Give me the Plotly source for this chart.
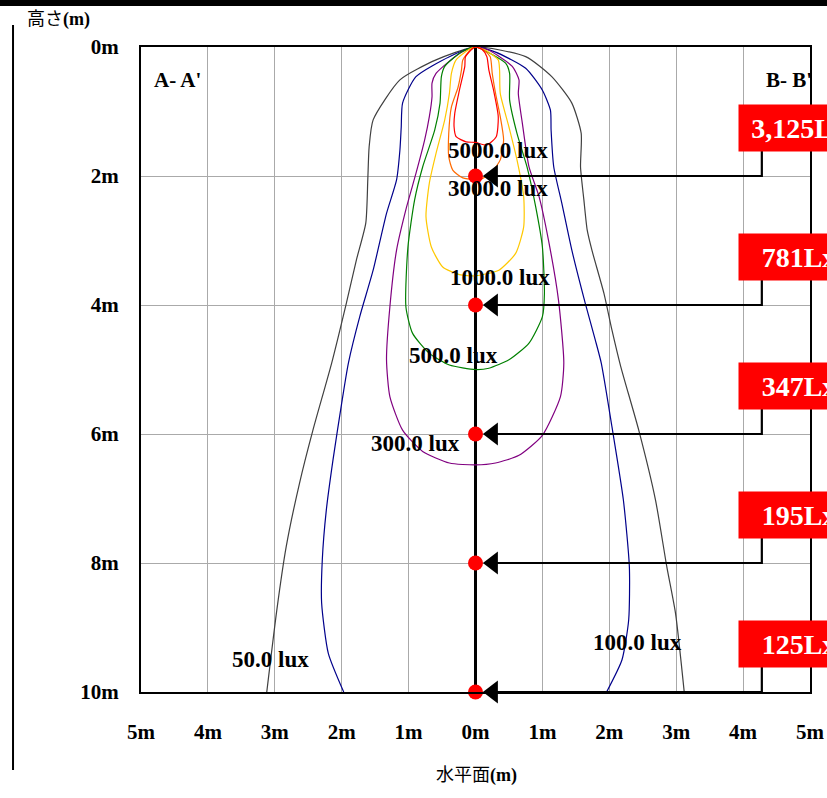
import plotly.graph_objects as go

# ---------------- data ----------------
lux_levels = ["50.0 lux", "100.0 lux", "300.0 lux", "500.0 lux", "1000.0 lux", "3000.0 lux", "5000.0 lux"]
lux_colors = ["#404040", "#00008B", "#800080", "#008000", "#FFC800", "#FF6A00", "#FF0000"]

c50_x = [-3.12, -2.97, -2.83, -2.63, -2.43, -2.15, -1.93, -1.78, -1.64, -1.61, -1.59, -1.53, -1.13, -0.59, 0.0,
         0.75, 1.14, 1.44, 1.58, 1.57, 1.62, 1.67, 1.74, 1.92, 2.04, 2.17, 2.44, 2.69, 2.86, 2.99, 3.12]
c50_y = [10.0, 8.73, 7.75, 6.76, 5.94, 4.90, 3.97, 3.30, 2.73, 2.06, 1.55, 1.13, 0.51, 0.20, 0.0,
         0.15, 0.46, 0.87, 1.34, 1.86, 2.37, 2.84, 3.15, 3.82, 4.39, 4.95, 5.94, 7.02, 8.06, 8.78, 10.0]

c100_x = [-1.97, -2.20, -2.30, -2.29, -2.23, -2.13, -2.00, -1.90, -1.73, -1.53, -1.33, -1.18, -1.13, -1.11, -1.09, -0.89, -0.39, 0.0,
          0.30, 0.75, 1.00, 1.12, 1.13, 1.17, 1.29, 1.44, 1.64, 1.79, 1.88, 2.04, 2.21, 2.30, 2.29, 2.19, 1.96]
c100_y = [10.0, 9.40, 8.62, 7.95, 7.18, 6.40, 5.52, 4.90, 4.18, 3.46, 2.58, 2.06, 1.60, 1.24, 0.87, 0.46, 0.15, 0.0,
          0.08, 0.33, 0.67, 0.98, 1.29, 1.86, 2.42, 3.15, 3.97, 4.54, 4.90, 5.89, 7.02, 8.06, 8.88, 9.50, 10.0]

c300_x = [0.0, -0.39, -0.79, -1.09, -1.28, -1.33, -1.28, -1.18, -1.03, -0.89, -0.76, -0.69, -0.65, -0.65, -0.59, -0.24, 0.0,
          0.20, 0.55, 0.65, 0.64, 0.70, 0.80, 0.95, 1.09, 1.24, 1.32, 1.27, 1.00, 0.65, 0.30, 0.0]
c300_y = [6.48, 6.45, 6.27, 5.94, 5.42, 4.85, 4.03, 3.15, 2.48, 1.96, 1.44, 1.08, 0.77, 0.56, 0.41, 0.10, 0.0,
          0.05, 0.30, 0.51, 0.72, 1.18, 1.86, 2.32, 2.99, 3.92, 4.90, 5.42, 6.02, 6.33, 6.45, 6.48]

c500_x = [0.0, -0.39, -0.69, -0.94, -1.04, -1.01, -0.91, -0.79, -0.61, -0.53, -0.51, -0.46, -0.20, 0.0,
          0.45, 0.51, 0.51, 0.62, 0.77, 0.90, 1.00, 1.03, 1.00, 0.80, 0.50, 0.20, 0.0]
c500_y = [5.00, 4.93, 4.75, 4.44, 4.03, 3.10, 2.37, 1.86, 1.29, 0.87, 0.46, 0.30, 0.07, 0.0,
          0.25, 0.41, 0.82, 1.34, 1.86, 2.48, 3.10, 3.82, 4.18, 4.59, 4.85, 4.98, 5.00]

c1000_x = [0.0, -0.24, -0.49, -0.66, -0.74, -0.69, -0.59, -0.46, -0.39, -0.36, -0.29, -0.10, 0.0,
           0.15, 0.34, 0.36, 0.37, 0.50, 0.62, 0.72, 0.72, 0.60, 0.35, 0.10, 0.0]
c1000_y = [3.55, 3.53, 3.41, 3.10, 2.63, 2.11, 1.65, 1.13, 0.72, 0.41, 0.20, 0.04, 0.0,
           0.05, 0.20, 0.36, 0.72, 1.24, 1.75, 2.32, 2.79, 3.20, 3.46, 3.53, 3.55]

c3000_x = [0.0, -0.19, -0.34, -0.40, -0.40, -0.36, -0.26, -0.21, -0.19, -0.07, 0.0,
           0.12, 0.22, 0.25, 0.30, 0.37, 0.42, 0.37, 0.25, 0.10, 0.0]
c3000_y = [2.05, 2.03, 1.91, 1.70, 1.34, 0.93, 0.62, 0.36, 0.20, 0.04, 0.0,
           0.05, 0.15, 0.41, 0.72, 1.08, 1.44, 1.75, 1.93, 2.04, 2.05]

c5000_x = [0.0, -0.14, -0.29, -0.32, -0.31, -0.24, -0.16, -0.15, -0.05, 0.0,
           0.10, 0.17, 0.20, 0.27, 0.34, 0.31, 0.17, 0.0]
c5000_y = [1.48, 1.47, 1.39, 1.24, 1.03, 0.67, 0.30, 0.15, 0.03, 0.0,
           0.04, 0.15, 0.36, 0.67, 1.08, 1.39, 1.52, 1.48]

curves_x = [c50_x, c100_x, c300_x, c500_x, c1000_x, c3000_x, c5000_x]
curves_y = [c50_y, c100_y, c300_y, c500_y, c1000_y, c3000_y, c5000_y]

# label positions (x, height)
label_x = [-3.07, 2.42, -0.90, -0.33, 0.36, 0.33, 0.33]
label_y = [9.49, 9.24, 6.14, 4.78, 3.57, 2.20, 1.60]

# measurement heights and values on the right
point_heights = [2, 4, 6, 8, 10]
point_values = ["3,125Lx", "781Lx", "347Lx", "195Lx", "125Lx"]

x_ticks = [-5, -4, -3, -2, -1, 0, 1, 2, 3, 4, 5]
x_ticktext = ["5m", "4m", "3m", "2m", "1m", "0m", "1m", "2m", "3m", "4m", "5m"]
y_ticks = [0, 2, 4, 6, 8, 10]
y_ticktext = ["0m", "2m", "4m", "6m", "8m", "10m"]

SERIF = "Liberation Serif, Times New Roman, serif"
CJK = "Liberation Serif, Noto Sans CJK JP, sans-serif"

fig = go.Figure()

for cx, cy, col, name in zip(curves_x, curves_y, lux_colors, lux_levels):
    fig.add_trace(go.Scatter(x=cx, y=cy, mode="lines",
                             line=dict(color=col, width=1.2, shape="spline", smoothing=0.6),
                             name=name, hoverinfo="skip", showlegend=False))

# connectors from the value boxes
box_x = 4.28
conn_x, conn_y = [], []
for h in point_heights:
    conn_x += [box_x, box_x, 0.25, None]
    conn_y += [h - 0.39, h, h, None]
fig.add_trace(go.Scatter(x=conn_x, y=conn_y, mode="lines", line=dict(color="black", width=2.2),
                         showlegend=False, hoverinfo="skip"))

# red dots at centre
fig.add_trace(go.Scatter(x=[0] * len(point_heights), y=point_heights, mode="markers",
                         marker=dict(color="#FF0000", size=15), showlegend=False, hoverinfo="skip",
                         cliponaxis=False))
# arrow heads
fig.add_trace(go.Scatter(x=[0.26] * len(point_heights), y=point_heights, mode="markers",
                         marker=dict(color="black", size=20, symbol="triangle-left"),
                         showlegend=False, hoverinfo="skip", cliponaxis=False))

annotations = []
for name, lx, ly in zip(lux_levels, label_x, label_y):
    annotations.append(dict(x=lx, y=ly, xref="x", yref="y", text="<b>" + name + "</b>",
                            showarrow=False, font=dict(family=SERIF, size=23, color="black"),
                            xanchor="center", yanchor="middle"))

for h, v in zip(point_heights, point_values):
    annotations.append(dict(x=4.84, y=h - 0.745, xref="x", yref="y", text="<b>" + v + "</b>",
                            showarrow=False, bgcolor="#FF0000", width=120, height=46,
                            borderpad=0, align="center", valign="middle",
                            font=dict(family=SERIF, size=28, color="white"),
                            xanchor="center", yanchor="middle"))

annotations.append(dict(x=-4.45, y=0.51, xref="x", yref="y", text="<b>A- A'</b>", showarrow=False,
                        font=dict(family=SERIF, size=21, color="black")))
annotations.append(dict(x=4.69, y=0.51, xref="x", yref="y", text="<b>B- B'</b>", showarrow=False,
                        font=dict(family=SERIF, size=21, color="black")))

annotations.append(dict(x=-0.1734, y=1.0419, xref="paper", yref="paper", text="高さ<b>(m)</b>",
                        showarrow=False, xanchor="left", yanchor="middle",
                        font=dict(family=CJK, size=18, color="black")))
annotations.append(dict(x=0.5008, y=-0.1287, xref="paper", yref="paper", text="水平面<b>(m)</b>",
                        showarrow=False, xanchor="center", yanchor="middle",
                        font=dict(family=CJK, size=18, color="black")))

shapes = [
    # top black band
    dict(type="rect", xref="paper", yref="paper", x0=-0.25, x1=1.03, y0=1.0636, y1=1.08,
         fillcolor="black", line=dict(width=0)),
    # left vertical rule
    dict(type="line", xref="paper", yref="paper", x0=-0.1913, x1=-0.1913, y0=-0.121, y1=1.034,
         line=dict(color="black", width=2)),
]

fig.update_layout(
    width=827, height=798, autosize=False,
    margin=dict(l=141, r=17, t=47, b=106, autoexpand=False),
    paper_bgcolor="white", plot_bgcolor="white",
    annotations=annotations, shapes=shapes,
    xaxis=dict(range=[-5, 5], tickvals=x_ticks, ticktext=x_ticktext, showgrid=True,
               gridcolor="#AAAAAA", gridwidth=1, zeroline=True, zerolinecolor="black",
               zerolinewidth=3, showline=True, mirror=True, linecolor="black", linewidth=2,
               ticks="", ticklabelstandoff=20, automargin=False,
               tickfont=dict(family=SERIF, size=21, color="black", weight="bold")),
    yaxis=dict(range=[10, 0], tickvals=y_ticks, ticktext=y_ticktext, showgrid=True,
               gridcolor="#AAAAAA", gridwidth=1, zeroline=False, showline=True, mirror=True,
               linecolor="black", linewidth=2, ticks="", ticklabelstandoff=16, automargin=False,
               tickfont=dict(family=SERIF, size=21, color="black", weight="bold")),
)

fig.write_html("out.html", config={"displayModeBar": False},
               post_script="document.body.style.margin='0';document.body.style.overflow='hidden';")
